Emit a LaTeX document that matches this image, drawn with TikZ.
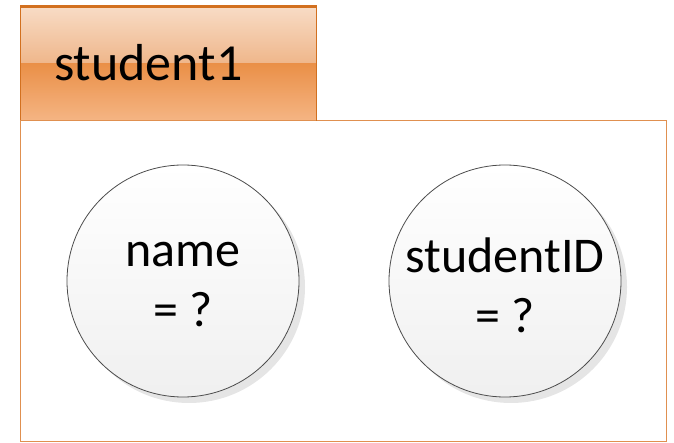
\documentclass[tikz,border=0pt]{standalone}
\usepackage{fontspec}
\setmainfont{Carlito}
\begin{document}
\begin{tikzpicture}[x=1pt,y=-1pt,
  attr/.style={circle, minimum size=232pt, inner sep=0pt, draw=black!70, line width=0.8pt,
    top color=white, bottom color=black!6},
  attrtxt/.style={align=center, inner sep=0pt, font=\fontsize{50}{60}\selectfont},
  shadowc/.style={circle, minimum size=232pt, inner sep=0pt, fill=black!10},
  tabtxt/.style={font=\fontsize{52}{60}\selectfont, anchor=base west, inner sep=0pt}]
\definecolor{tabtop}{HTML}{F8DCC6}
\definecolor{tabmid}{HTML}{EFB68A}
\definecolor{tablow}{HTML}{EA9048}
\definecolor{tabbot}{HTML}{F5B584}
\definecolor{tabedge}{HTML}{D2701F}
\definecolor{boxedge}{HTML}{E09050}
\useasboundingbox (0,0) rectangle (674,443);
% main frame
\draw[draw=boxedge, line width=1pt] (20.5,121) rectangle (666,441);
% tab
\shade[top color=tabtop, bottom color=tabmid] (20,6) rectangle (316,64);
\shade[top color=tablow, bottom color=tabbot] (20,64) rectangle (316,121);
\draw[draw=tabedge, line width=1pt] (20,121) -- (20,6) -- (316,6) -- (316,121);
\draw[draw=tabedge, line width=2.5pt] (20,7) -- (316,7);
\draw[draw=boxedge, line width=1pt] (20,121) -- (316,121);
\node[tabtxt] (tab) at (54,81) {student1};
% circles
\node[shadowc] (nameshadow) at (189,287) {};
\node[shadowc] (sidshadow) at (511,287) {};
\node[attr] (name) at (183,281) {};
\node[attr] (sid) at (505,281) {};
\node[attrtxt] (nametxt) at (183,285) {name\\= ?};
\node[attrtxt] (sidtxt) at (505,285) {studentID\\= ?};
\end{tikzpicture}
\end{document}
